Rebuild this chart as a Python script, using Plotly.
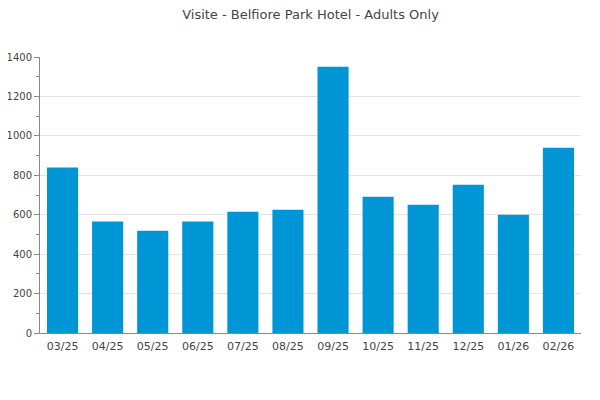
import plotly.graph_objects as go

months = ["03/25", "04/25", "05/25", "06/25", "07/25", "08/25",
          "09/25", "10/25", "11/25", "12/25", "01/26", "02/26"]
visits = [840, 565, 519, 565, 615, 625, 1351, 691, 651, 752, 600, 940]
y_ticks = [0, 200, 400, 600, 800, 1000, 1200, 1400]

fig = go.Figure(go.Bar(x=months, y=visits, marker=dict(color="#0096d6", line=dict(width=0)),
                       hoverinfo="x+y"))

# the page body adds an 8px offset, so the figure is 592x392
fig.update_layout(
    width=592, height=392,
    margin=dict(l=32, r=19, t=49, b=67),
    paper_bgcolor="white", plot_bgcolor="white",
    bargap=0.31,
    showlegend=False,
    font=dict(family="DejaVu Sans", size=11, color="#444"),
    title=dict(text="Visite - Belfiore Park Hotel - Adults Only", x=0.5, xanchor="center",
               xref="paper", y=1 - 2 / 392, yanchor="top",
               font=dict(family="DejaVu Sans", size=13, color="#444")),
)
fig.update_xaxes(automargin=False, showline=True, linecolor="#888", linewidth=1,
                 ticks="outside", ticklen=3, tickcolor="rgba(0,0,0,0)", showgrid=False,
                 tickfont=dict(size=11, color="#444"))
fig.update_yaxes(automargin=False, range=[0, 1400], tickvals=y_ticks, showline=True,
                 linecolor="#888", linewidth=1,
                 ticks="outside", ticklen=5, tickcolor="#888", gridcolor="#e3e3e3",
                 minor=dict(dtick=100, ticks="outside", ticklen=3, tickcolor="#888", showgrid=False),
                 tickfont=dict(size=10, color="#444"), zeroline=False)

fig.write_html("out.html")
